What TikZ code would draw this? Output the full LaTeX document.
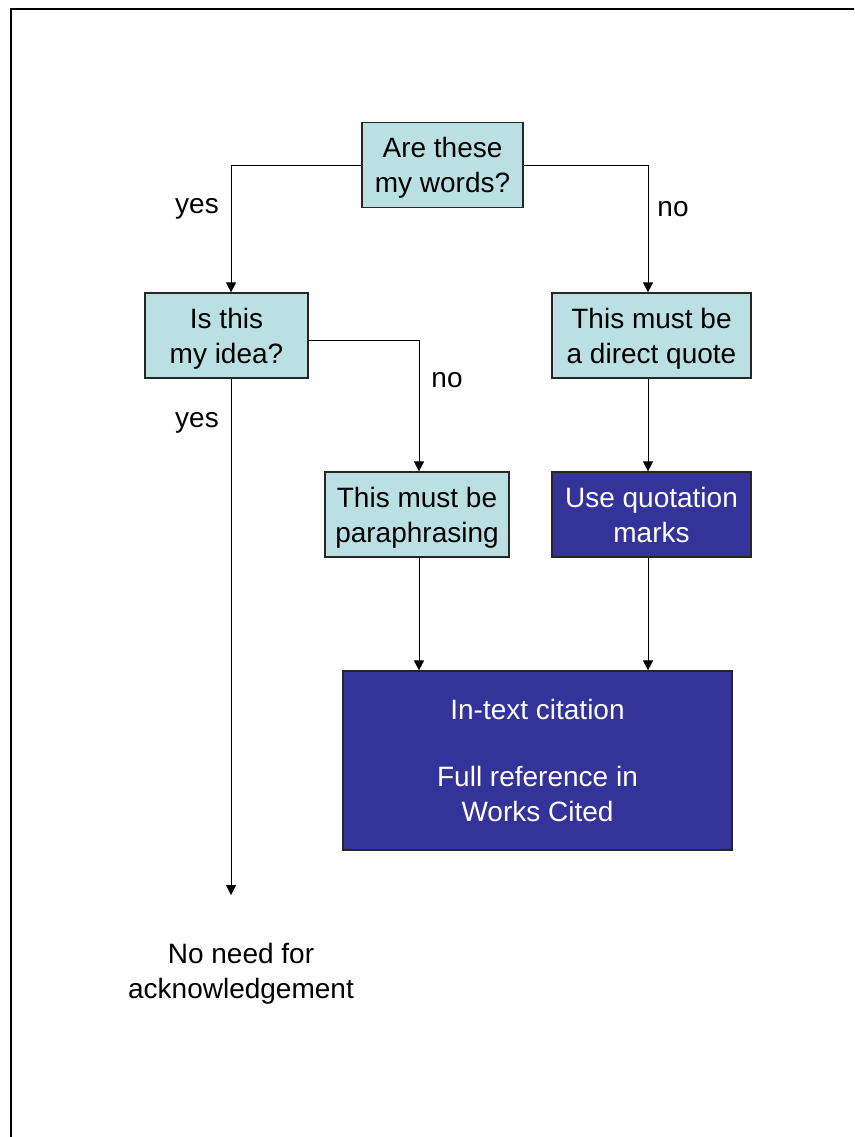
\documentclass[tikz,border=0pt]{standalone}
\usepackage{fontspec}
\setmainfont{Liberation Sans}
\usetikzlibrary{arrows.meta}
\definecolor{lightbox}{RGB}{187,224,227}
\definecolor{darkbox}{RGB}{51,51,153}
\begin{document}
\begin{tikzpicture}[x=1pt,y=-1pt,
  txt/.style={font=\fontsize{28}{35}\selectfont, align=center, inner sep=0pt},
  lbox/.style={txt, draw=black!85, line width=1.2pt, fill=lightbox, text depth=0pt},
  dbox/.style={txt, draw=black!85, line width=1.2pt, fill=darkbox, text=white},
  arr/.style={line width=1pt, -{Triangle[length=10pt,width=10pt]}},
  ln/.style={line width=1pt}]
\useasboundingbox (0,0) rectangle (854,1137);
\clip (0,0) rectangle (854,1137);
\fill[white] (0,0) rectangle (854,1137);
\draw[line width=2.2pt] (11,1145) -- (11,9) -- (860,9);

\node[lbox, minimum width=161pt, minimum height=85pt] (b1) at (442.5,165) {Are these\\my words?};
\node[lbox, minimum width=163pt, minimum height=85pt] (b2) at (226.5,335.5) {Is this\\my idea?};
\node[lbox, minimum width=199pt, minimum height=85pt] (b3) at (651.5,335.5) {This must be\\a direct quote};
\node[lbox, minimum width=184pt, minimum height=85pt] (b4) at (417,514.5) {This must be\\paraphrasing};
\node[dbox, minimum width=199pt, minimum height=85pt] (b5) at (651.5,514.5) {Use quotation\\marks};
\node[dbox, minimum width=389pt, minimum height=179pt] (b6) at (537.5,760.5) {In-text citation\\[32pt]Full reference in\\Works Cited};

\coordinate (lx) at (231,0);
\coordinate (rx) at (648,0);
\coordinate (mx) at (419,0);
\coordinate (b2r) at (308,340);
\coordinate (endn) at (231,895);

\draw[arr] (b1.west) -| (b2.north -| lx);
\draw[arr] (b1.east) -| (b3.north -| rx);
\draw[arr] (b2r) -| (b4.north -| mx);
\draw[arr] (b3.south -| rx) -- (b5.north -| rx);
\draw[arr] (b2.south -| lx) -- (endn);
\draw[arr] (b4.south -| mx) -- (b6.north -| mx);
\draw[arr] (b5.south -| rx) -- (b6.north -| rx);

\node[txt] (yes1) at (197,209) {yes};
\node[txt] (no1) at (673,209) {no};
\node[txt] (no2) at (447,380) {no};
\node[txt] (yes2) at (197,423) {yes};
\node[txt] (none) at (241,974) {No need for\\acknowledgement};
\end{tikzpicture}
\end{document}
